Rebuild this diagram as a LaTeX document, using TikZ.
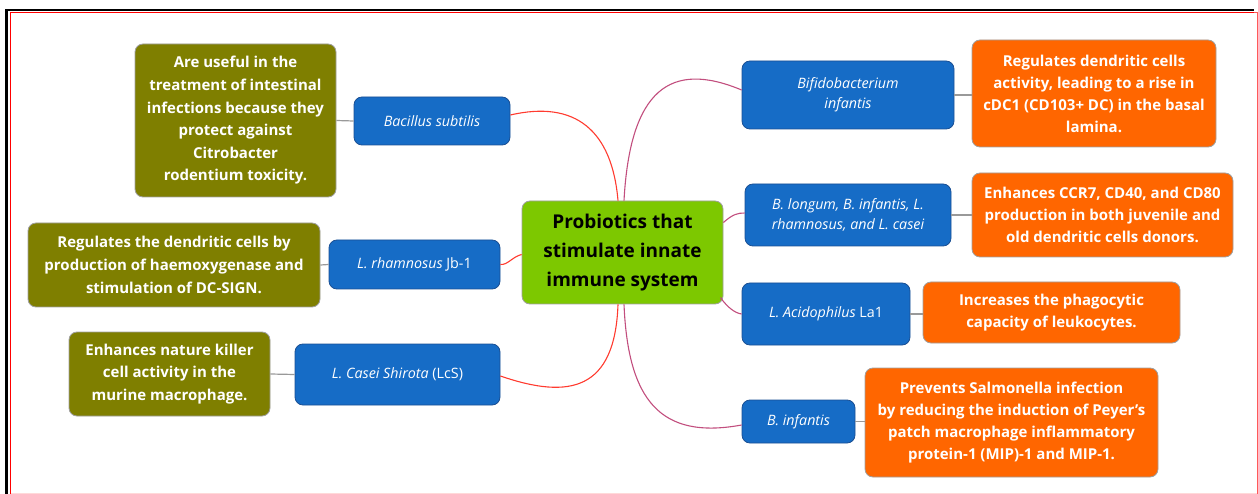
\documentclass[tikz,border=0pt]{standalone}
\usepackage{fontspec}
\setmainfont{Open Sans}
\definecolor{olivebox}{HTML}{7F7F00}
\definecolor{bluebox}{HTML}{166CC6}
\definecolor{blueedge}{HTML}{1A4F93}
\definecolor{orangebox}{HTML}{FF6600}
\definecolor{greenbox}{HTML}{7DC800}
\definecolor{redlink}{HTML}{FF3B2F}
\definecolor{purplelink}{HTML}{C24E7E}

\begin{document}
\begin{tikzpicture}[x=1pt,y=-1pt,
  box/.style={rounded corners=8pt, draw=gray!75, line width=0.8pt, align=center, text=white, inner sep=0pt},
  sz/.style 2 args={minimum width=#1pt, minimum height=#2pt},
  effect/.style={box, fill=olivebox, font=\fontsize{15}{22.6}\selectfont\bfseries},
  result/.style={box, fill=orangebox, font=\fontsize{15}{22}\selectfont\bfseries},
  strain/.style={box, fill=bluebox, draw=blueedge, font=\fontsize{14.3}{20}\selectfont},
  hub/.style={box, fill=greenbox, text=black, font=\fontsize{19}{29}\selectfont\bfseries},
  redl/.style={redlink, line width=1.1pt},
  purl/.style={purplelink, line width=1.1pt},
  grayl/.style={gray!80, line width=1.2pt}]
\useasboundingbox (0,0) rectangle (1258,494);
% frame
\draw[black, line width=2.5pt] (6.5,494) -- (6.5,10) -- (1254,10);
\draw[red!15, line width=1pt] (10,493) -- (1257.5,493);
\draw[red, line width=1pt] (10,494) -- (10,12.5) -- (1254,12.5);
\draw[red!65, line width=1pt] (1254,12.5) -- (1257.5,12.5) -- (1257.5,494);

% centre
\node[hub, sz={201}{103}] (hub) at (622.5,252.5) {Probiotics that\\stimulate innate\\immune system};

% left side
\node[strain, sz={156}{48}] (bsub) at (432,121) {\itshape Bacillus subtilis};
\node[strain, sz={171}{49}] (rham) at (414.5,264.5) {{\itshape L. rhamnosus} Jb-1};
\node[strain, sz={205}{61}] (casei) at (397.5,374.5) {{\itshape L. Casei Shirota} (LcS)};
\node[effect, sz={201}{153}] (olA) at (235.5,120.5) {Are useful in the\\treatment of intestinal\\infections because they\\protect against\\Citrobacter\\rodentium toxicity.};
\node[effect, sz={292}{84}] (olB) at (174,265) {Regulates the dendritic cells by\\production of haemoxygenase and\\stimulation of DC-SIGN.};
\node[effect, sz={201}{84}] (olC) at (169.5,374) {Enhances nature killer\\cell activity in the\\murine macrophage.};

% right side
\node[strain, sz={212}{68}] (bifi) at (848,95) {\itshape Bifidobacterium\\\itshape infantis};
\node[strain, sz={206}{62}] (blong) at (848,215) {\itshape B. longum, B. infantis, L.\\\itshape rhamnosus, and L. casei};
\node[strain, sz={168}{62}] (acid) at (826,314) {{\itshape L. Acidophilus} La1};
\node[strain, sz={113}{43}] (binf) at (798.5,421.5) {\itshape B. infantis};
\node[result, sz={244}{107}] (orA) at (1094,93.5) {Regulates dendritic cells\\activity, leading to a rise in\\cDC1 (CD103+ DC) in the basal\\lamina.};
\node[result, sz={261}{84}] (orB) at (1102.5,215) {Enhances CCR7, CD40, and CD80\\production in both juvenile and\\old dendritic cells donors.};
\node[result, sz={257}{61}] (orC) at (1051.5,312.5) {Increases the phagocytic\\capacity of leukocytes.};
\node[result, sz={293}{109}] (orD) at (1011.5,422.5) {Prevents Salmonella infection\\by reducing the induction of Peyer's\\patch macrophage inflammatory\\protein-1 (MIP)-1 and MIP-1.};

% links
\draw[redl] ([xshift=-4.5pt]hub.north) .. controls (612,130) and (575,100) .. ([yshift=6pt]bsub.east);
\draw[redl] ([yshift=-2pt]hub.west) .. controls (512,257) and (508,265) .. (rham.east);
\draw[redl] ([xshift=-4.5pt]hub.south) .. controls (615,390) and (570,400) .. ([yshift=-1.5pt]casei.east);
\draw[purl] ([xshift=1.5pt]hub.north) .. controls (630,90) and (670,60) .. ([yshift=5pt]bifi.west);
\draw[purl] ([yshift=30pt]hub.east) .. controls (733,214) and (738,213) .. ([yshift=2pt]blong.west);
\draw[purl] ([yshift=-45pt,xshift=-3pt]hub.east) .. controls (728,308) and (735,313) .. (acid.west);
\draw[purl] ([xshift=1.5pt]hub.south) .. controls (628,400) and (660,440) .. ([yshift=-3.5pt]binf.west);

\draw[grayl] (olA.east) -- (bsub.west);
\draw[grayl] (olB.east) -- (rham.west);
\draw[grayl] (olC.east) -- (casei.west);
\draw[grayl] (bifi.east) -- (bifi.east -| orA.west);
\draw[grayl] (blong.east) -- (orB.west);
\draw[grayl] (acid.east) -- (acid.east -| orC.west);
\draw[grayl] (binf.east) -- (binf.east -| orD.west);
\end{tikzpicture}
\end{document}
